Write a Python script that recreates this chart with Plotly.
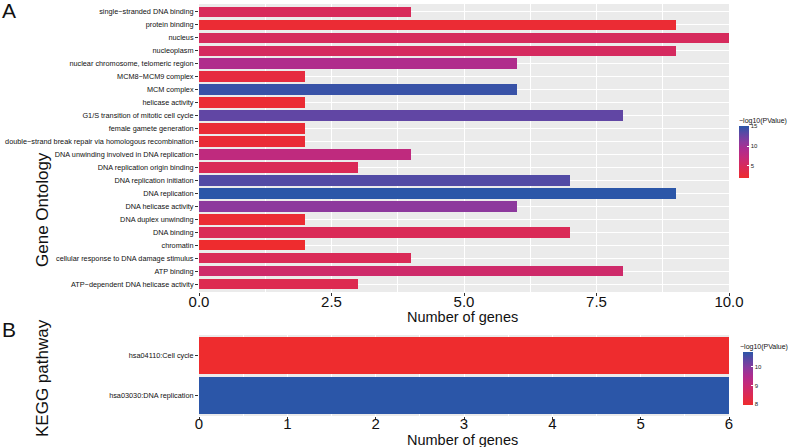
import plotly.graph_objects as go

W, H = 789, 447

# ---------------- data ----------------
go_terms = [
    "single\u2212stranded DNA binding",
    "protein binding",
    "nucleus",
    "nucleoplasm",
    "nuclear chromosome, telomeric region",
    "MCM8\u2212MCM9 complex",
    "MCM complex",
    "helicase activity",
    "G1/S transition of mitotic cell cycle",
    "female gamete generation",
    "double\u2212strand break repair via homologous recombination",
    "DNA unwinding involved in DNA replication",
    "DNA replication origin binding",
    "DNA replication initiation",
    "DNA replication",
    "DNA helicase activity",
    "DNA duplex unwinding",
    "DNA binding",
    "chromatin",
    "cellular response to DNA damage stimulus",
    "ATP binding",
    "ATP\u2212dependent DNA helicase activity",
]
go_counts = [4, 9, 10, 9, 6, 2, 6, 2, 8, 2, 2, 4, 3, 7, 9, 6, 2, 7, 2, 4, 8, 3]
go_logp = [4.8, 2.3, 5.0, 5.2, 9.0, 3.0, 14.6, 2.3, 13.0, 2.4, 2.4, 7.6, 4.6, 13.6, 15.1, 11.0, 2.3, 4.6, 1.9, 4.6, 6.0, 4.2]

kegg_terms = ["hsa04110:Cell cycle", "hsa03030:DNA replication"]
kegg_counts = [6, 6]
kegg_logp = [7.95, 10.8]

go_ticks = [0, 2.5, 5, 7.5, 10]
go_ticktext = ["0.0", "2.5", "5.0", "7.5", "10.0"]
kegg_ticks = [0, 1, 2, 3, 4, 5, 6]

# ---------------- helpers ----------------
def px(x):
    return x / W

def py(y):
    return 1 - y / H

scale = [
    [0.0, "#EE2C2E"],
    [0.2, "#DA2A56"],
    [0.4, "#C42A7A"],
    [0.55, "#AE2C8E"],
    [0.7, "#8A3A9E"],
    [0.85, "#5E47A4"],
    [1.0, "#2B56A8"],
]

fig = go.Figure()

fig.add_trace(go.Bar(
    x=go_counts, y=go_terms, orientation="h", width=0.8,
    marker=dict(color=go_logp, coloraxis="coloraxis", line=dict(width=0)),
    xaxis="x", yaxis="y", showlegend=False,
))
fig.add_trace(go.Bar(
    x=kegg_counts, y=kegg_terms, orientation="h", width=0.91,
    marker=dict(color=kegg_logp, coloraxis="coloraxis2", line=dict(width=0)),
    xaxis="x2", yaxis="y2", showlegend=False,
))

narrow = "Liberation Sans Narrow, Liberation Sans, Arial, sans-serif"
sans = "Liberation Sans, Arial, sans-serif"
bg = "#EBEBEB"

common_x = dict(
    showgrid=True, gridcolor="white", gridwidth=1.1,
    ticks="outside", ticklen=3, tickcolor="#333333", tickwidth=1,
    tickfont=dict(family=narrow, size=15, color="#111111"),
    zeroline=False, showline=False, fixedrange=True, automargin=False,
)
common_y = dict(
    type="category", showgrid=True, gridcolor="white", gridwidth=1.1,
    ticks="outside", ticklen=3, tickcolor="#333333", tickwidth=1,
    tickfont=dict(family=sans, size=7.3, color="#111111"),
    zeroline=False, showline=False, fixedrange=True, automargin=False,
)

fig.update_layout(
    width=W, height=H,
    margin=dict(l=0, r=0, t=0, b=0, pad=0, autoexpand=False),
    paper_bgcolor="white", plot_bgcolor=bg,
    bargap=0,
    xaxis=dict(domain=[px(199), px(729)], range=[0, 10], anchor="y",
               tickvals=go_ticks, ticktext=go_ticktext, ticklabelstandoff=-7,
               minor=dict(showgrid=True, gridcolor="white", gridwidth=0.5,
                          tickvals=[1.25, 3.75, 6.25, 8.75]),
               **common_x),
    yaxis=dict(domain=[py(292), py(4)], anchor="x",
               categoryorder="array", categoryarray=list(reversed(go_terms)),
               range=[-0.6, len(go_terms) - 0.4], **common_y),
    xaxis2=dict(domain=[px(199), px(729)], range=[0, 6], anchor="y2",
                tickvals=kegg_ticks, ticklabelstandoff=-9,
                minor=dict(showgrid=True, gridcolor="white", gridwidth=0.5,
                           tickvals=[0.5, 1.5, 2.5, 3.5, 4.5, 5.5]),
                **common_x),
    yaxis2=dict(domain=[py(416), py(335)], anchor="x2",
                categoryorder="array", categoryarray=list(reversed(kegg_terms)),
                range=[-0.5, 1.5], **common_y),
    coloraxis=dict(
        colorscale=scale, cmin=1.9, cmax=15.1,
        colorbar=dict(
            x=px(739), xanchor="left", xpad=0,
            y=py(126), yanchor="top", ypad=0,
            thickness=10, len=52, lenmode="pixels",
            outlinewidth=0, ticks="inside", ticklen=2, tickcolor="white",
            tickvals=[5, 10, 15], tickfont=dict(family=sans, size=6, color="#222"),
            title=dict(text=""),
        ),
    ),
    coloraxis2=dict(
        colorscale=scale, cmin=7.95, cmax=10.8,
        colorbar=dict(
            x=px(743), xanchor="left", xpad=0,
            y=py(352), yanchor="top", ypad=0,
            thickness=10, len=53, lenmode="pixels",
            outlinewidth=0, ticks="inside", ticklen=2, tickcolor="white",
            tickvals=[8, 9, 10], tickfont=dict(family=sans, size=6, color="#222"),
            title=dict(text=""),
        ),
    ),
)

annotations = [
    dict(text="A", x=px(0), y=py(10), xanchor="left", yanchor="middle",
         font=dict(family=sans, size=21, color="#111")),
    dict(text="B", x=px(0), y=py(329), xanchor="left", yanchor="middle",
         font=dict(family=sans, size=21, color="#111")),
    dict(text="Gene Ontology", x=px(42), y=py(210), textangle=-90,
         xanchor="center", yanchor="middle",
         font=dict(family=sans, size=17, color="#111")),
    dict(text="KEGG pathway", x=px(42), y=py(378), textangle=-90,
         xanchor="center", yanchor="middle",
         font=dict(family=sans, size=17, color="#111")),
    dict(text="Number of genes", x=px(462), y=py(307),
         xanchor="center", yanchor="top",
         font=dict(family=narrow, size=14.5, color="#111")),
    dict(text="Number of genes", x=px(462), y=py(431), borderpad=0,
         xanchor="center", yanchor="top",
         font=dict(family=narrow, size=14.5, color="#111")),
    dict(text="\u2212log10(PValue)", x=px(737), y=py(121),
         xanchor="left", yanchor="middle",
         font=dict(family=sans, size=7, color="#111")),
    dict(text="\u2212log10(PValue)", x=px(738), y=py(347),
         xanchor="left", yanchor="middle",
         font=dict(family=sans, size=7, color="#111")),
]
for a in annotations:
    a.update(xref="paper", yref="paper", showarrow=False)
fig.update_layout(annotations=annotations)

fig.write_html(
    "out.html",
    config={"displayModeBar": False},
    post_script="document.body.style.margin='0';document.body.style.overflow='hidden';",
)
